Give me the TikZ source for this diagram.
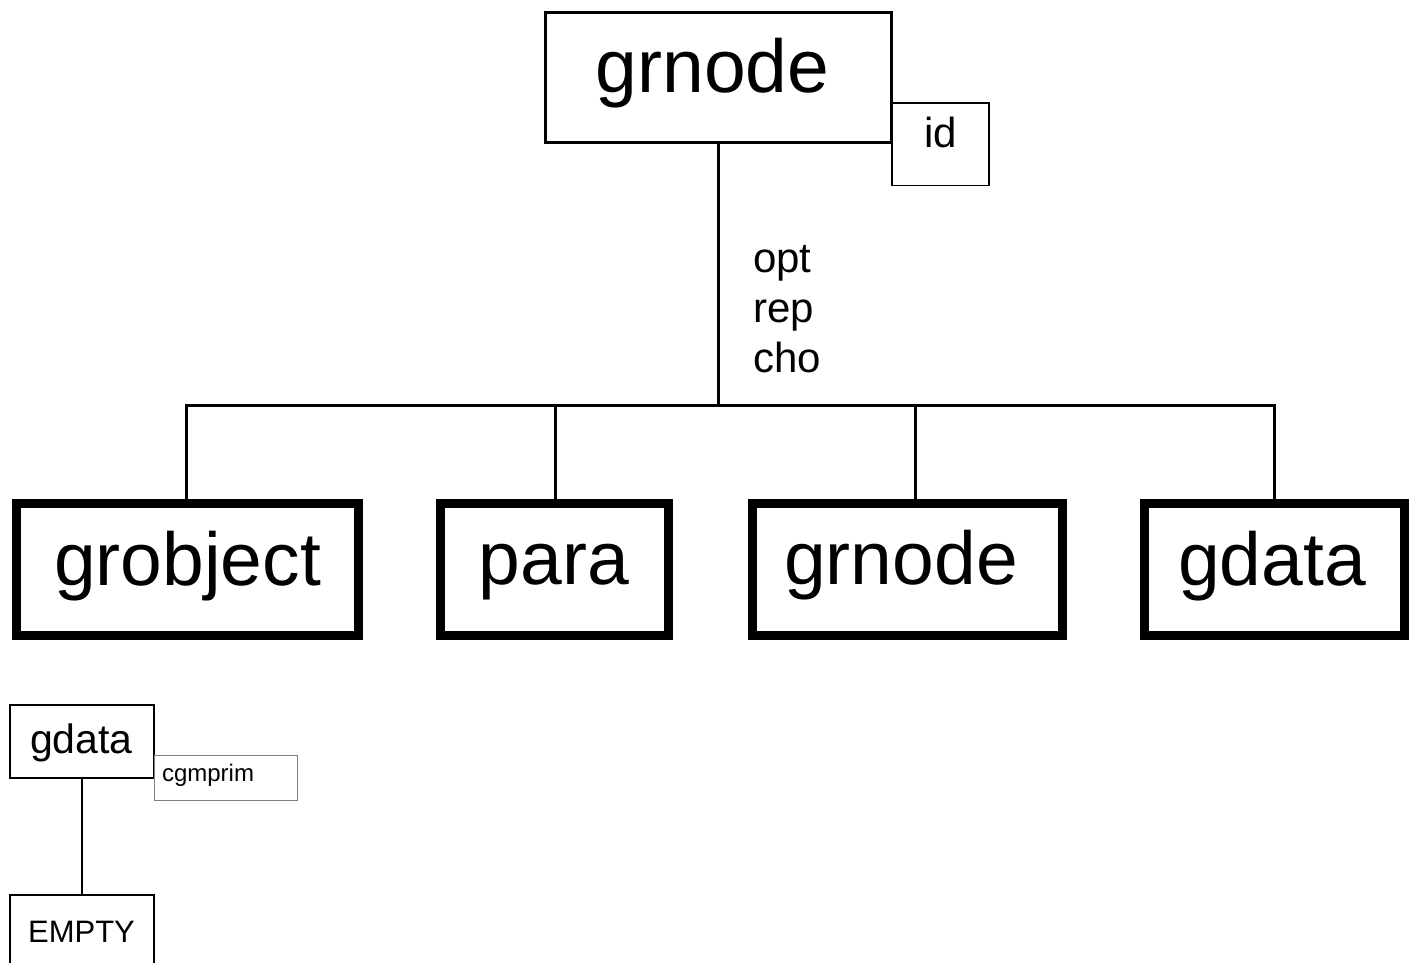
\documentclass[tikz,border=0pt]{standalone}
\usepackage{fontspec}
\setmainfont{Liberation Sans}
\newcommand{\fs}[1]{\fontsize{#1}{#1}\selectfont}
\begin{document}
\begin{tikzpicture}[x=1pt,y=-1pt,
  bigbox/.style={draw,line width=3pt,minimum width=346pt,minimum height=130pt,
    inner sep=0pt,font=\fs{75},text height=53pt,text depth=21.5pt},
  childbox/.style={draw,line width=9pt,minimum height=132pt,inner sep=0pt,
    font=\fs{75},text height=54pt,text depth=23pt},
  smallbox/.style={draw,line width=2pt,minimum width=144pt,minimum height=73pt,inner sep=0pt},
  attrbox/.style={draw,line width=1.3pt,inner sep=0pt},
  link/.style={line width=3pt},
  thinlink/.style={line width=2pt}]
\useasboundingbox (0,0) rectangle (1409,963);
\clip (0,0) rectangle (1409,963);

% root and its attribute
\node[bigbox] (root) at (718.5,77.25) {grnode\hspace*{12pt}};
\node[attrbox,minimum width=97pt,minimum height=82.5pt,font=\fs{42},
  text height=30pt,text depth=22.5pt] (id) at (940.5,144.25) {id};

% children
\node[childbox,minimum width=342pt] (c1) at (187.5,569.5) {grobject};
\node[childbox,minimum width=228pt] (c2) at (554,569) {para};
\node[childbox,minimum width=310pt] (c3) at (907,569) {grnode\hspace*{12pt}};
\node[childbox,minimum width=260pt] (c4) at (1274.5,569.5) {gdata\hspace*{5pt}};

% tree connectors
\coordinate (hub) at (718,405);
\draw[link] (root.south -| hub) -- (hub);
\draw[link] (hub) -| (c1.north -| 186,0);
\draw[link] (hub) -| (c2.north -| 555,0);
\draw[link] (hub) -| (c3.north -| 915,0);
\draw[link] (hub) -| (c4.north -| 1274,0);

% cardinality labels (base anchor sits on the last line)
\node[anchor=base west,inner sep=0pt,align=left,font=\fontsize{42}{50}\selectfont]
  (card) at (753,372) {opt\\rep\\cho};

% lower tree
\node[smallbox,font=\fs{41},text height=31pt,text depth=8pt] (gd) at (81.5,741.5) {gdata};
\node[attrbox,draw=black!50,line width=1pt,minimum height=45pt,inner xsep=8pt,
  text width=127pt,align=left,font=\fs{24},text height=17pt,text depth=10pt]
  (cgm) at (225.5,777.5) {cgmprim};
\node[smallbox,font=\fs{31},text height=22.5pt,text depth=1.5pt] (empty) at (81.5,931.5) {EMPTY};
\draw[thinlink] (gd.south) -- (empty.north);
\end{tikzpicture}
\end{document}
